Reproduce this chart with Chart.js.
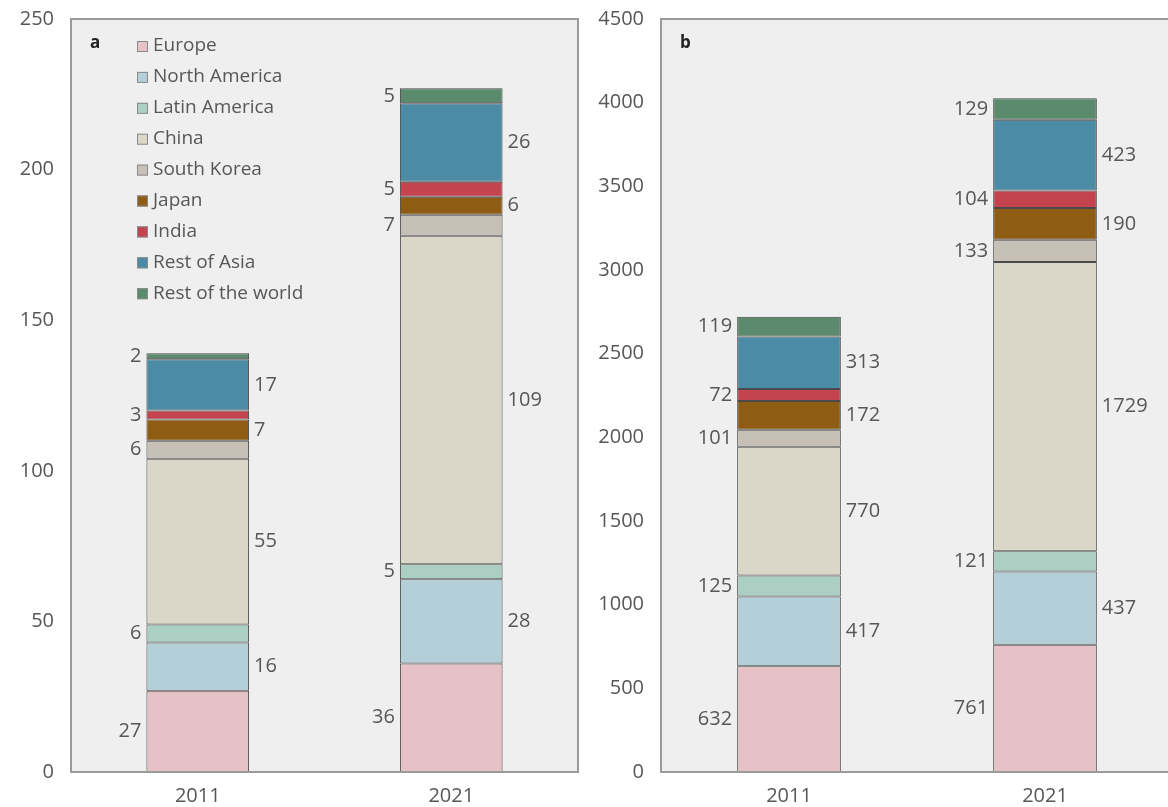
<!DOCTYPE html>
<html>
<head>
<meta charset="utf-8">
<title>Regional totals 2011 vs 2021</title>
<script src="https://cdn.jsdelivr.net/npm/chart.js@4.4.1/dist/chart.umd.min.js"></script>
<style>
    html, body { margin: 0; padding: 0; background: #fff; overflow: hidden; }
    #wrap { position: relative; width: 1168px; height: 807px; overflow: hidden; }
    #chartA { position: absolute; left: 0; top: 0; }
    #chartB { position: absolute; left: 590px; top: 0; }
</style>
</head>
<body>
<div id="wrap">
    <canvas id="chartA" width="590" height="807"></canvas>
    <canvas id="chartB" width="600" height="807"></canvas>
</div>
<script>
// Categories and series
const years = ['2011', '2021'];
const regions = ['Europe', 'North America', 'Latin America', 'China', 'South Korea',
                 'Japan', 'India', 'Rest of Asia', 'Rest of the world'];
const regionColors = ['#e6c2c6', '#b5cfd9', '#abcfc3', '#dad6c8', '#c6c0b6',
                      '#8f5c14', '#c4434f', '#4b8ba5', '#5b8a6c'];

// Panel a
const europeA = [27, 36];
const northAmericaA = [16, 28];
const latinAmericaA = [6, 5];
const chinaA = [55, 109];
const southKoreaA = [6, 7];
const japanA = [7, 6];
const indiaA = [3, 5];
const restOfAsiaA = [17, 26];
const restOfWorldA = [2, 5];

// Panel b
const europeB = [632, 761];
const northAmericaB = [417, 437];
const latinAmericaB = [125, 121];
const chinaB = [770, 1729];
const southKoreaB = [101, 133];
const japanB = [172, 190];
const indiaB = [72, 104];
const restOfAsiaB = [313, 423];
const restOfWorldB = [119, 129];

const ticksA = [0, 50, 100, 150, 200, 250];
const ticksB = [0, 500, 1000, 1500, 2000, 2500, 3000, 3500, 4000, 4500];

const textColor = '#575757';
const fontFamily = '"Open Sans", "Noto Sans", sans-serif';

function buildDatasets(seriesList) {
    return seriesList.map(function(values, i) {
        return {
            label: regions[i],
            data: values,
            backgroundColor: regionColors[i],
            borderColor: '#4a4a4a',
            borderWidth: 1,
            borderSkipped: false,
            categoryPercentage: 1,
            barPercentage: 0.405
        };
    });
}

// grey plot background and frame
const framePlugin = {
    id: 'frame',
    beforeDraw: function(chart) {
        const a = chart.chartArea;
        const ctx = chart.ctx;
        ctx.save();
        ctx.fillStyle = '#efefef';
        ctx.fillRect(a.left, a.top, a.right - a.left, a.bottom - a.top);
        ctx.restore();
    },
    afterDatasetsDraw: function(chart) {
        const a = chart.chartArea;
        const ctx = chart.ctx;
        ctx.save();
        ctx.strokeStyle = '#9a9a9a';
        ctx.lineWidth = 2;
        ctx.strokeRect(a.left, a.top, a.right - a.left, a.bottom - a.top);
        ctx.restore();
    }
};

// value labels, alternating left / right of the bar
const valueLabelPlugin = {
    id: 'valueLabels',
    afterDatasetsDraw: function(chart) {
        const ctx = chart.ctx;
        ctx.save();
        ctx.font = '20px ' + fontFamily;
        ctx.fillStyle = textColor;
        ctx.textBaseline = 'middle';
        chart.data.datasets.forEach(function(ds, i) {
            const meta = chart.getDatasetMeta(i);
            meta.data.forEach(function(bar, j) {
                const y = (bar.y + bar.base) / 2;
                if (i % 2 === 0) {
                    ctx.textAlign = 'right';
                    ctx.fillText(ds.data[j], bar.x - bar.width / 2 - 5, y);
                } else {
                    ctx.textAlign = 'left';
                    ctx.fillText(ds.data[j], bar.x + bar.width / 2 + 5, y);
                }
            });
        });
        ctx.restore();
    }
};

// panel letter + legend (legend only on panel a)
const panelPlugin = {
    id: 'panel',
    afterDraw: function(chart, args, opts) {
        const a = chart.chartArea;
        const ctx = chart.ctx;
        ctx.save();
        ctx.fillStyle = '#222';
        ctx.font = 'bold 17px ' + fontFamily;
        ctx.textAlign = 'left';
        ctx.textBaseline = 'alphabetic';
        ctx.fillText(opts.letter, a.left + 19, a.top + 29);

        if (opts.legend) {
            ctx.font = '19px ' + fontFamily;
            ctx.textBaseline = 'middle';
            chart.data.datasets.forEach(function(ds, i) {
                const y = a.top + 27 + i * 30.9;
                ctx.fillStyle = ds.backgroundColor;
                ctx.fillRect(a.left + 66, y - 5, 11, 11);
                ctx.strokeStyle = '#8a8a8a';
                ctx.lineWidth = 1;
                ctx.strokeRect(a.left + 66.5, y - 4.5, 10, 10);
                ctx.fillStyle = textColor;
                ctx.fillText(ds.label, a.left + 82, y);
            });
        }
        ctx.restore();
    }
};

function makeChart(canvasId, seriesList, tickValues, stepSize, padRight, letter, showLegend) {
    const ctx = document.getElementById(canvasId).getContext('2d');
    return new Chart(ctx, {
        type: 'bar',
        data: {
            labels: years,
            datasets: buildDatasets(seriesList)
        },
        options: {
            responsive: false,
            animation: false,
            layout: { padding: { top: 19, right: padRight, bottom: 0, left: 0 } },
            plugins: {
                legend: { display: false },
                tooltip: { enabled: false },
                panel: { letter: letter, legend: showLegend }
            },
            scales: {
                x: {
                    stacked: true,
                    grid: { display: false, drawTicks: false },
                    border: { display: false },
                    ticks: {
                        color: textColor,
                        font: { family: fontFamily, size: 20 },
                        padding: 12
                    },
                    afterFit: function(scale) { scale.height = 35; }
                },
                y: {
                    stacked: true,
                    min: 0,
                    max: tickValues[tickValues.length - 1],
                    grid: { display: false, drawTicks: false },
                    border: { display: false },
                    ticks: {
                        stepSize: stepSize,
                        color: textColor,
                        font: { family: fontFamily, size: 20 },
                        padding: 17,
                        callback: function(value) { return String(value); }
                    },
                    afterFit: function(scale) {
                        scale.width = 71;
                        scale.paddingTop = 0;
                        scale.paddingBottom = 0;
                    }
                }
            }
        },
        plugins: [framePlugin, valueLabelPlugin, panelPlugin]
    });
}

makeChart('chartA',
    [europeA, northAmericaA, latinAmericaA, chinaA, southKoreaA, japanA, indiaA, restOfAsiaA, restOfWorldA],
    ticksA, 50, 12, 'a', true);

makeChart('chartB',
    [europeB, northAmericaB, latinAmericaB, chinaB, southKoreaB, japanB, indiaB, restOfAsiaB, restOfWorldB],
    ticksB, 500, 17, 'b', false);
</script>
</body>
</html>
